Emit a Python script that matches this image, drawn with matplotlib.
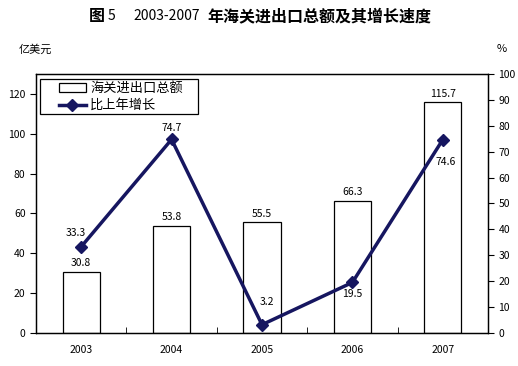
import numpy as np
import matplotlib.pyplot as plt
from matplotlib.patches import Rectangle

plt.rcParams['font.family'] = ['Noto Sans CJK SC', 'DejaVu Sans']

years = ['2003', '2004', '2005', '2006', '2007']
totals = [30.8, 53.8, 55.5, 66.3, 115.7]
growth = [33.3, 74.7, 3.2, 19.5, 74.6]

navy = '#161660'
fs = 7.5

fig = plt.figure(figsize=(5.18, 3.66), dpi=100)
ax = fig.add_axes([0.0695, 0.0902, 0.8725, 0.708])
x = np.arange(len(years))

bars = ax.bar(x, totals, width=0.41, color='white', edgecolor='black', linewidth=0.9,
              label='海关进出口总额', zorder=2)
ax.set_xlim(-0.5, len(years) - 0.5)
ax.set_ylim(0, 130)
ax.set_yticks(range(0, 121, 20))
ax.set_xticks(x)
ax.set_xticklabels(years)
ax.set_xticks(np.arange(-0.5, len(years), 1.0), minor=True)
ax.tick_params(axis='x', which='major', length=0, pad=9, labelsize=fs)
ax.tick_params(axis='x', which='minor', length=4, direction='in')
ax.tick_params(axis='y', labelsize=fs, length=4, direction='out')
for b, v in zip(bars, totals):
    ax.annotate(f'{v}', (b.get_x() + b.get_width() / 2, v), xytext=(0, 2.5),
                textcoords='offset points', ha='center', va='bottom', fontsize=fs)

ax2 = ax.twinx()
line, = ax2.plot(x, growth, color=navy, linewidth=2.5, marker='D', markersize=6.3,
                 label='比上年增长', zorder=3)
ax2.set_ylim(0, 100)
ax2.set_yticks(range(0, 101, 10))
ax2.tick_params(axis='y', labelsize=fs, length=4, direction='out')

offsets = [(-3.6, 10), (0, 8), (3.6, 16.5), (0, -8), (2, -16)]
for xi, v, off in zip(x, growth, offsets):
    ax2.annotate(f'{v}', (xi, v), xytext=off, textcoords='offset points',
                 ha='center', va='center', fontsize=fs)

for a in (ax, ax2):
    for s in a.spines.values():
        s.set_linewidth(0.9)

# legend box drawn by hand, entries placed inside it
box = Rectangle((0.0088, 0.846), 0.349, 0.135, transform=ax2.transAxes,
                facecolor='white', edgecolor='black', linewidth=0.9, zorder=4)
ax2.add_patch(box)
leg = ax2.legend([bars, line], ['海关进出口总额', '比上年增长'], loc='upper left',
                 bbox_to_anchor=(0.05, 0.968), fontsize=9.5, frameon=False,
                 handlelength=2.1, handleheight=0.6,
                 borderpad=0, labelspacing=0.3, handletextpad=0.3, borderaxespad=0)
leg.set_zorder(5)

fig.text(0.172, 0.955, '图', fontsize=11.5, fontweight='bold', ha='left', va='center')
fig.text(0.2085, 0.955, '5', fontsize=10, ha='left', va='center')
fig.text(0.257, 0.955, '2003-2007', fontsize=10, ha='left', va='center')
fig.text(0.3996, 0.955, '年海关进出口总额及其增长速度', fontsize=11.5, fontweight='bold',
         ha='left', va='center')
fig.text(0.037, 0.866, '亿美元', fontsize=8, ha='left', va='center')
fig.text(0.959, 0.866, '%', fontsize=8, ha='left', va='center')

fig.savefig('out.png', dpi=100)
